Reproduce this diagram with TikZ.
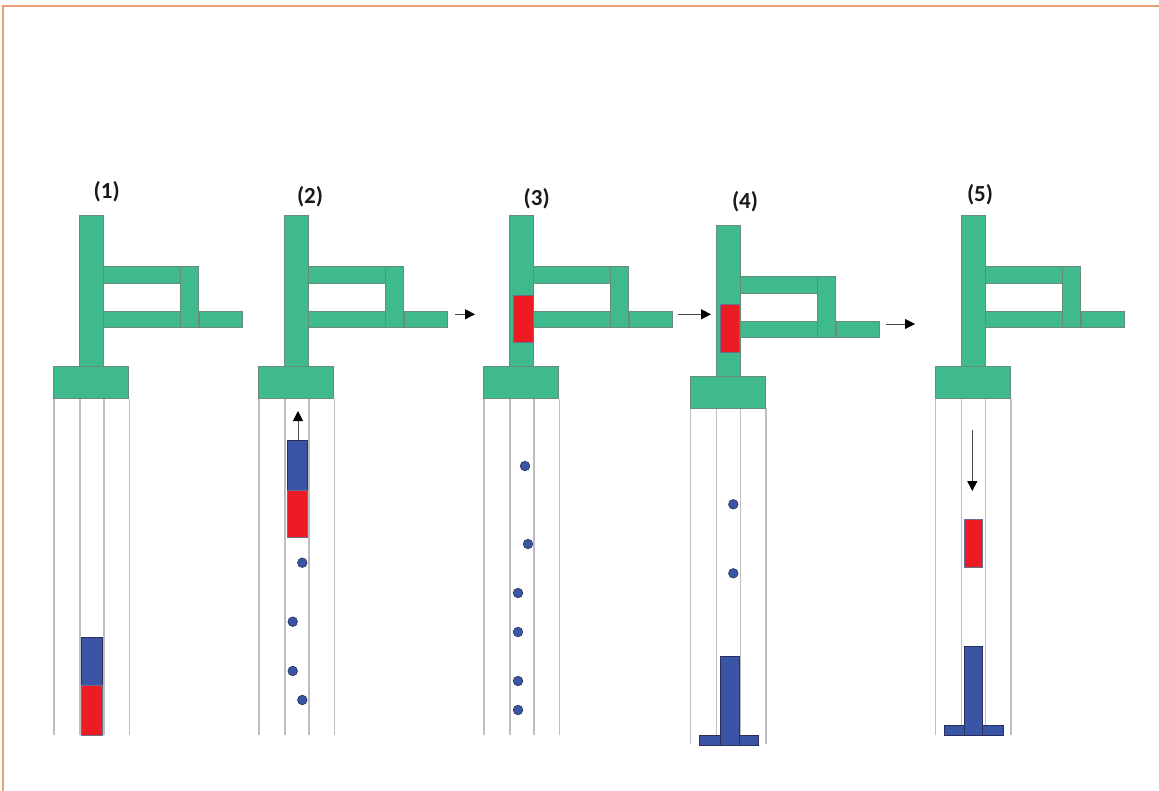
\documentclass[tikz,border=0pt]{standalone}
\usepackage{fontspec}
\setmainfont{Carlito}
\usetikzlibrary{arrows.meta}
\definecolor{armgreen}{RGB}{62,186,141}
\definecolor{armedge}{RGB}{105,140,122}
\definecolor{plugred}{RGB}{237,28,36}
\definecolor{rodblue}{RGB}{58,85,165}
\definecolor{rodedge}{RGB}{40,48,90}
\definecolor{tubegray}{RGB}{190,190,190}
\definecolor{frameorange}{RGB}{232,160,118}
\tikzset{
  part/.style={fill=armgreen,draw=armedge,line width=0.7pt},
  tube/.style={draw=tubegray,line width=1.4pt},
  plug/.style={fill=plugred,draw=rodedge!70,line width=0.7pt},
  rod/.style={fill=rodblue,draw=rodedge,line width=0.8pt},
  dot/.style={fill=rodblue,draw=rodedge,line width=0.6pt},
  move/.style={draw=black!70,line width=0.9pt,-{Triangle[length=10pt,width=10pt,color=black]}},
  tag/.style={font=\fontsize{23}{26}\selectfont\bfseries,text=black!90,inner sep=0pt},
  % one robot arm with its base and the tube below it; origin = top-left of the column
  arm/.pic={
    \draw[tube] (-25.5,183) -- (-25.5,519) (0.5,183) -- (0.5,519)
                (24.5,183) -- (24.5,519) (50,183) -- (50,519);
    \path[part] (0,0) rectangle (24,151);
    \path[part] (24,51) rectangle (101,68);
    \path[part] (24,96) rectangle (101,112);
    \path[part] (101,51) rectangle (119,112);
    \path[part] (120,96) rectangle (163,112);
    \path[part] (-26,151) rectangle (49,183);
  }
}
\begin{document}
\begin{tikzpicture}[x=1pt,y=-1pt]
\useasboundingbox (0,0) rectangle (1159,791);
\fill[white] (0,0) rectangle (1159,791);
% page frame
\draw[frameorange,line width=2pt] (3,791) -- (3,6) -- (1159,6);

% the five stages
\pic at (79.3,215.7) {arm};
\pic at (284.3,215.7) {arm};
\pic at (509.3,215.7) {arm};
\pic at (716,225) {arm};
\pic at (961,215.7) {arm};

% stage labels
\node[tag] (t1) at (106.7,192) {(1)};
\node[tag] (t2) at (310,196.7) {(2)};
\node[tag] (t3) at (536.7,198.3) {(3)};
\node[tag] (t4) at (745,201.7) {(4)};
\node[tag] (t5) at (980,195) {(5)};

% stage 1: rod and plug at the bottom of the tube
\path[rod] (81.7,637.3) rectangle (102.7,685);
\path[plug] (81.7,685) rectangle (102.7,735);

% stage 2: rod and plug rising, particles left behind
\path[rod] (287.7,440) rectangle (307.7,490);
\path[plug] (287.7,490) rectangle (307.7,537.7);
\foreach \x/\y in {302.3/562.7, 292.7/621.7, 292.7/671, 302.3/700}
  \path[dot] (\x,\y) circle (4.8);
\coordinate (up2a) at (298,440);
\coordinate (up2b) at (298,411);
\draw[move] (up2a) -- (up2b);

% stage 3: plug held in the column, particles in the tube
\path[plug] (513.3,295) rectangle (533.5,342.7);
\foreach \x/\y in {525/466, 528/544, 518/593, 518/632, 518/681, 518/710}
  \path[dot] (\x,\y) circle (4.8);

% stage 4: plug held, rod with foot in the tube
\path[plug] (720,304) rectangle (739.5,352.7);
\foreach \x/\y in {733.3/504.3, 733.3/573.3}
  \path[dot] (\x,\y) circle (4.8);
\path[rod] (699.3,735) rectangle (758.3,745);
\path[rod] (720,656) rectangle (739,745);

% stage 5: plug released down the tube
\path[plug] (964,519) rectangle (982.7,567.7);
\path[rod] (944.3,725) rectangle (1003.3,735);
\path[rod] (964,646.7) rectangle (982.7,735);
\coordinate (dn5a) at (972.3,430);
\coordinate (dn5b) at (972.3,491);
\draw[move] (dn5a) -- (dn5b);

% transitions between stages
\coordinate (s2) at (455,314.3);
\coordinate (s3) at (475,314.3);
\draw[move] (s2) -- (s3);
\coordinate (s3b) at (678,314.3);
\coordinate (s4) at (711,314.3);
\draw[move] (s3b) -- (s4);
\coordinate (s4b) at (886,324);
\coordinate (s5) at (915,324);
\draw[move] (s4b) -- (s5);
\end{tikzpicture}
\end{document}
